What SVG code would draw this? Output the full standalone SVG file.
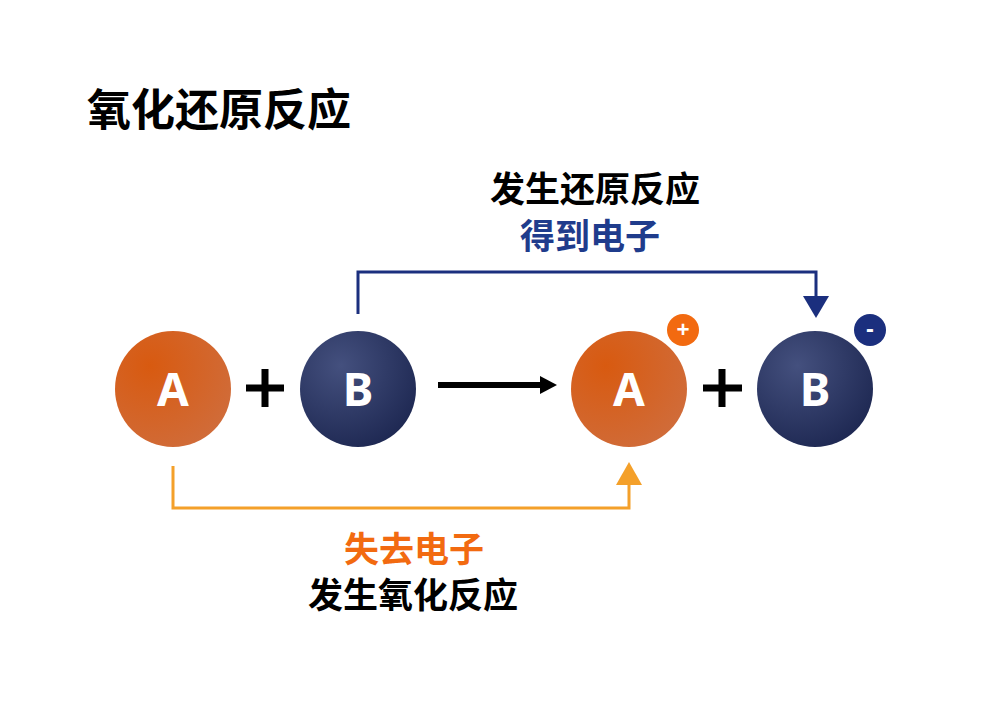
<svg xmlns="http://www.w3.org/2000/svg" width="1000" height="707" viewBox="0 0 1000 707">
<defs>
<radialGradient id="gA" cx="0.3" cy="0.3" r="0.8">
<stop offset="0" stop-color="#d85a10"/>
<stop offset="1" stop-color="#d06c3a"/>
</radialGradient>
<radialGradient id="gB" cx="0.35" cy="0.3" r="0.8">
<stop offset="0" stop-color="#44507e"/>
<stop offset="1" stop-color="#1c2650"/>
</radialGradient>
<style>
.t{font-family:"Noto Sans CJK SC","Noto Sans",sans-serif;font-weight:bold;text-anchor:middle}
.l{font-family:"Noto Sans","Liberation Sans",sans-serif;font-weight:bold;fill:#fff;text-anchor:middle}
.plus{stroke:#000;stroke-width:7;fill:none}
.badge{stroke:#fff;stroke-width:3;stroke-linecap:round;fill:none}
</style>
</defs>
<rect width="1000" height="707" fill="#fff"/>
<text x="87" y="126" class="t" style="text-anchor:start" font-size="44" fill="#000">氧化还原反应</text>
<g id="connectors">
<polyline points="358,314 358,272 816,272 816,298" fill="none" stroke="#1b2f7e" stroke-width="3"/>
<polygon points="803,296 829,296 816,318" fill="#1b2f7e"/>
<polyline points="173,466 173,508 629,508 629,482" fill="none" stroke="#f4a02a" stroke-width="3"/>
<polygon points="616,485 642,485 629,462" fill="#f4a02a"/>
<line x1="438" y1="385" x2="544" y2="385" stroke="#000" stroke-width="6"/>
<polygon points="540,376 557,385 540,394" fill="#000"/>
</g>
<g id="nodeA1"><circle cx="173" cy="389" r="58" fill="url(#gA)"/><text x="173" y="406" class="l" font-size="46">A</text></g>
<g id="plus1"><path class="plus" d="M246,388H284M265,369V407"/></g>
<g id="nodeB1"><circle cx="358" cy="389" r="58" fill="url(#gB)"/><text x="358" y="406" class="l" font-size="46">B</text></g>
<g id="nodeA2"><circle cx="629" cy="389" r="58" fill="url(#gA)"/><text x="629" y="406" class="l" font-size="46">A</text></g>
<g id="badgePlus"><circle cx="683" cy="330" r="16" fill="#f26a10"/><text x="683" y="338" class="l" font-size="23">+</text></g>
<g id="plus2"><path class="plus" d="M703,388H742M722,369V407"/></g>
<g id="nodeB2"><circle cx="815" cy="389" r="58" fill="url(#gB)"/><text x="815" y="406" class="l" font-size="46">B</text></g>
<g id="badgeMinus"><circle cx="870" cy="330" r="16" fill="#1b2f7e"/><text x="870" y="337" class="l" font-size="23">-</text></g>
<text x="595" y="202" class="t" font-size="35" fill="#000">发生还原反应</text>
<text x="590" y="249" class="t" font-size="35" fill="#1f3c8c">得到电子</text>
<text x="414" y="562" class="t" font-size="35" fill="#f26a10">失去电子</text>
<text x="413" y="608" class="t" font-size="35" fill="#000">发生氧化反应</text>
</svg>
